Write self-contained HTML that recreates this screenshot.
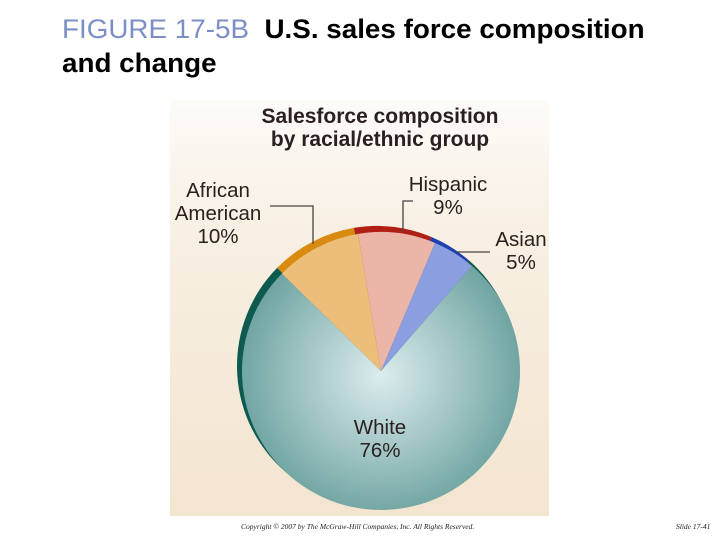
<!DOCTYPE html>
<html><head><meta charset="utf-8"><style>
body{margin:0;width:720px;height:540px;background:#fff;overflow:hidden;position:relative;font-family:"Liberation Sans",sans-serif}
.t{position:absolute;left:62px;top:12px;font-size:27px;font-weight:bold;line-height:34px;color:#000;transform:scaleX(1.03);transform-origin:left top;white-space:nowrap}
.t span{color:#7b8fc6;font-weight:normal}
.foot{position:absolute;top:522px;font-family:"Liberation Serif",serif;font-style:italic;font-size:7.5px;color:#222}
</style></head><body>
<div class="t"><span>FIGURE 17-5B</span>&nbsp; U.S. sales force composition<br>and change</div>
<svg id="chart" width="720" height="540" style="position:absolute;left:0;top:0">
<defs>
<linearGradient id="bg" x1="0" y1="0" x2="0" y2="1"><stop offset="0" stop-color="#fdfbf8"/><stop offset="0.3" stop-color="#f8f0e4"/><stop offset="1" stop-color="#f3e5d0"/></linearGradient>
<radialGradient id="wg" cx="381" cy="375" r="150" gradientUnits="userSpaceOnUse"><stop offset="0" stop-color="#dcecee"/><stop offset="0.55" stop-color="#9ec3c2"/><stop offset="1" stop-color="#69a09d"/></radialGradient>
</defs>
<rect x="170" y="100" width="379" height="416" fill="url(#bg)"/>
<text x="380" y="123" text-anchor="middle" font-size="21" font-weight="bold" fill="#2a2020">Salesforce composition</text>
<text x="380" y="146" text-anchor="middle" font-size="21" font-weight="bold" fill="#2a2020">by racial/ethnic group</text>
<g id="slices"></g>
<g fill="none" stroke="#444" stroke-width="1.3">
<polyline points="270,206 313,206 313,244"/>
<polyline points="403,232 403,201 413,201"/>
<polyline points="455,252 490,252"/>
</g>
<g font-size="20.5" fill="#2a2020" text-anchor="middle">
<text x="218" y="197">African</text>
<text x="218" y="220">American</text>
<text x="218" y="243">10%</text>
<text x="448" y="191">Hispanic</text>
<text x="448" y="214">9%</text>
<text x="521" y="246">Asian</text>
<text x="521" y="269">5%</text>
<text x="380" y="434">White</text>
<text x="380" y="457">76%</text>
</g>
</svg>
<div class="foot" style="left:241px">Copyright © 2007 by The McGraw-Hill Companies, Inc. All Rights Reserved.</div>
<div class="foot" style="left:676px">Slide 17-41</div>
<script>
const categories=['African American','Hispanic','Asian','White'];
const values=[10,9,5,76];
const rimColors=['#d98a10','#b01e14','#2040b0','#0d5a4f'];
const fillColors=['#ecbe7a','#ebb6a8','#8a9ee0','url(#wg)'];
const g=document.getElementById('slices');
const total=values.reduce((a,b)=>a+b,0);
const startDeg=-45.5;
function pt(cx,cy,r,deg){const a=(deg-90)*Math.PI/180;return [cx+r*Math.cos(a),cy+r*Math.sin(a)];}
function arc(cx,cy,r,a0,a1){const p0=pt(cx,cy,r,a0),p1=pt(cx,cy,r,a1);const large=(a1-a0)>180?1:0;
return `M${cx},${cy}L${p0[0]},${p0[1]}A${r},${r} 0 ${large} 1 ${p1[0]},${p1[1]}Z`;}
function draw(cx,cy,r,colors,kind){let a=startDeg;
values.forEach((v,i)=>{const sweep=v/total*360;
const p=document.createElementNS('http://www.w3.org/2000/svg','path');
p.setAttribute('d',arc(cx,cy,r,a,a+sweep));p.setAttribute('fill',colors[i]);


g.appendChild(p);a+=sweep;});}
draw(377,366,140,rimColors,'slice-rim');
draw(381,371,139,fillColors,'slice');
</script>
</body></html>
